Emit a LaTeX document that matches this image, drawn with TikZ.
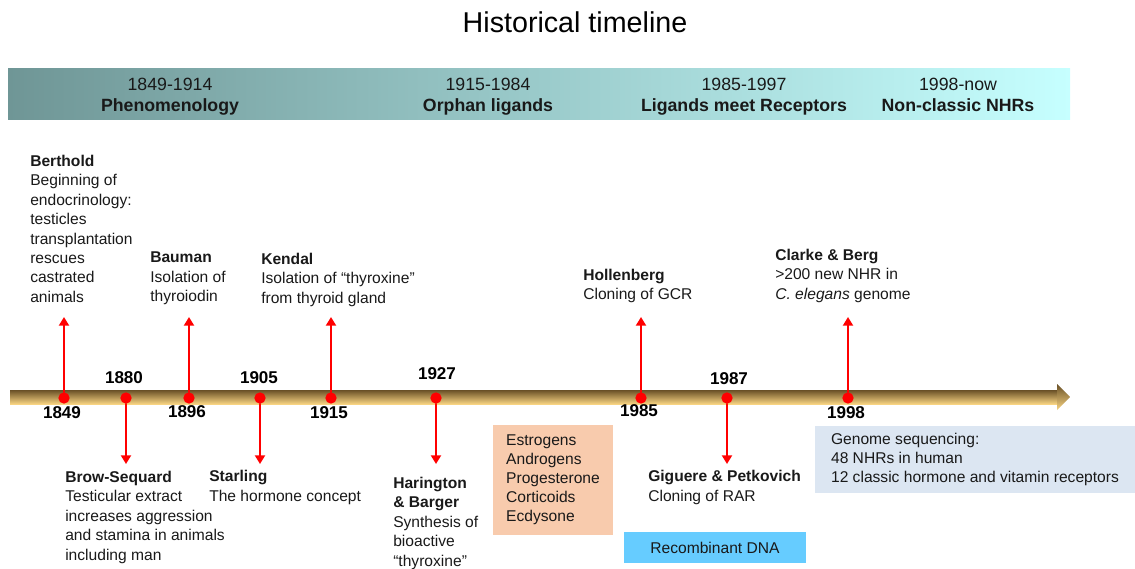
\documentclass[tikz,border=0pt]{standalone}
\usepackage{fontspec}
\setmainfont{Liberation Sans}
\usetikzlibrary{arrows.meta,positioning}
\definecolor{bandL}{RGB}{111,150,150}
\definecolor{bandR}{RGB}{198,255,255}
\definecolor{rodTop}{RGB}{105,80,38}
\definecolor{rodMid}{RGB}{190,150,80}
\definecolor{rodBot}{RGB}{248,212,130}
\definecolor{peach}{RGB}{248,203,173}
\definecolor{sky}{RGB}{102,204,255}
\definecolor{mist}{RGB}{220,230,242}
\tikzset{
  txt/.style={anchor=north west, inner sep=0pt, align=left, text=black!90,
    font=\fontsize{11.7}{14.6}\selectfont},
  yr/.style={anchor=base, inner sep=0pt, font=\bfseries\fontsize{12.8}{15}\selectfont},
  dot/.style={circle, fill=red, inner sep=0pt, minimum size=8.5pt},
  evt/.style={red, line width=1.5pt, -{Triangle[width=7.5pt,length=6.5pt]}},
  era/.style={anchor=north, inner sep=0pt, align=center, text=black!90,
    font=\fontsize{13.3}{15.75}\selectfont},
  tag/.style={inner sep=0pt, align=left, text=black!90, font=\fontsize{11.7}{14.3}\selectfont}
}
\begin{document}
\begin{tikzpicture}[line cap=round, line join=round, x=0.75pt, y=-0.75pt]
\useasboundingbox (0,0) rectangle (1135,568);
\node[anchor=base, inner sep=0pt, font=\fontsize{21.5}{24}\selectfont] (title) at (575,32) {Historical timeline};

\shade[left color=bandL, right color=bandR] (8,68) rectangle (1070,119);
\node[era] (phen) at (170,78) {1849-1914\\\textbf{Phenomenology}};
\node[era] (orph) at (488,78) {1915-1984\\\textbf{Orphan ligands}};
\node[era] (meet) at (744,78) {1985-1997\\\textbf{Ligands meet Receptors}};
\node[era] (nonc) at (958,78) {1998-now\\\textbf{Non-classic NHRs}};

\shade[top color=rodTop, middle color=rodMid, bottom color=rodBot] (10,390) rectangle (1058,404);
\shade[top color=rodTop, middle color=rodMid, bottom color=rodBot] (1057,384) -- (1070,397) -- (1057,410) -- cycle;

\foreach \yr/\xx in {1849/64,1880/126,1896/189,1905/260,1915/331,1927/436,1985/641,1987/727,1998/848}
    \node[dot] (d\yr) at (\xx,398) {};
\foreach \yr/\xx/\yy in {1849/64/317,1896/189/317,1915/331/317,1985/641/317,1998/848/317,
                         1880/126/464,1905/260/464,1927/436/464,1987/727/464}
{
    \coordinate (t\yr) at (\xx,\yy);
    \draw[evt] (d\yr) -- (t\yr);
}
\foreach \yr/\xx/\yy in {1849/62/418,1880/124/383,1896/187/417,1905/259/383,1915/329/418,
                         1927/437/379,1985/639/416,1987/729/384,1998/846/418}
    \node[yr] (y\yr) at (\xx,\yy) {\yr};

\node[txt] (berthold) at (30,154.6) {\textbf{Berthold}\\Beginning of\\endocrinology:\\testicles\\transplantation\\rescues\\castrated\\animals};
\node[txt] (bauman) at (150,251.6) {\textbf{Bauman}\\Isolation of\\thyroiodin};
\node[txt] (kendal) at (261,252.6) {\textbf{Kendal}\\Isolation of “thyroxine”\\from thyroid gland};
\node[txt] (hollenberg) at (583,268.6) {\textbf{Hollenberg}\\Cloning of GCR};
\node[txt] (clarke) at (775,248.6) {\textbf{Clarke \& Berg}\\>200 new NHR in\\\textit{C. elegans} genome};

\node[txt] (brown) at (65,470.6) {\textbf{Brow-Sequard}\\Testicular extract\\increases aggression\\and stamina in animals\\including man};
\node[txt] (starling) at (209,470) {\textbf{Starling}\\The hormone concept};
\node[txt] (harington) at (393,476.6) {\textbf{Harington}\\\textbf{\& Barger}\\Synthesis of\\bioactive\\“thyroxine”};
\node[txt] (giguere) at (648,470.3) {\textbf{Giguere \& Petkovich}\\Cloning of RAR};

\node[tag, fill=peach, minimum width=90pt, minimum height=82.5pt] (hormones) at (553,480) {Estrogens\\Androgens\\Progesterone\\Corticoids\\Ecdysone};
\node[tag, fill=sky, minimum width=136.5pt, minimum height=23.25pt, align=center] (dna) at (715,547.5) {Recombinant DNA};
\node[tag, fill=mist, minimum width=240pt, minimum height=50.25pt] (genome) at (975,459.5) {Genome sequencing:\\48 NHRs in human\\12 classic hormone and vitamin receptors};
\end{tikzpicture}
\end{document}
